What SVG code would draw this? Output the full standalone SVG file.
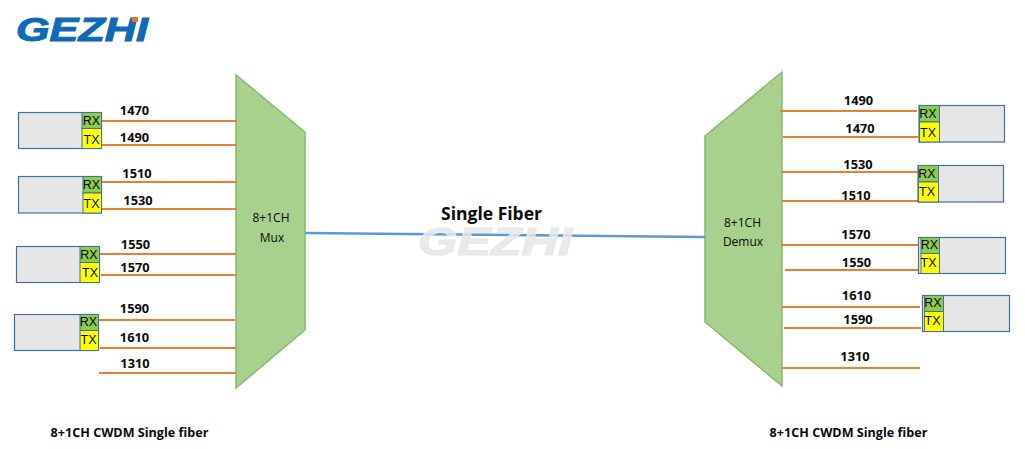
<svg xmlns="http://www.w3.org/2000/svg" width="1025" height="449" viewBox="0 0 1025 449">
<style>
text{font-family:"Open Sans","Liberation Sans",sans-serif;fill:#0a0a0a}
.l{font-size:12.8px;font-weight:700;text-anchor:middle}
.p{font-size:12.5px;font-family:"Liberation Sans",sans-serif;text-anchor:middle}
.m{font-size:12px;text-anchor:middle}
.c{font-size:12.6px;font-weight:700;text-anchor:middle}
.o{stroke:#ed7d31;stroke-width:2.200;fill:none}
.b{fill:#e6e6e6;stroke:#41719c;stroke-width:1.200}
.r{fill:#8ccb50;stroke:#41719c;stroke-width:1}
.y{fill:#ffff00;stroke:#41719c;stroke-width:1}
.t{fill:#a9d18e;stroke:#85b868;stroke-width:1.500}
.logo{font-family:"Liberation Sans",sans-serif;font-weight:700;font-style:italic}
</style>
<g id="logo">
<text class="logo" x="16" y="41" font-size="33" textLength="132" lengthAdjust="spacingAndGlyphs" style="fill:#0f69b4;stroke:#0f69b4;stroke-width:1">GEZHI</text>
<rect x="132" y="17" width="6" height="5" fill="#e8762c"/>
</g>
<g id="mux"><polygon class="t" points="236,75 305,132 305,330 236,388"/><text class="m" x="271" y="221.500">8+1CH</text><text class="m" x="272" y="241.500">Mux</text></g>
<g id="demux"><polygon class="t" points="782,72 782,386 705,322 705,136"/><text class="m" x="742.500" y="226.500">8+1CH</text><text class="m" x="743" y="246">Demux</text></g>
<g id="connectors">
<path d="M305 233L705 237" fill="none" stroke="#5b9bd5" stroke-width="2.500"/>
<path class="o" d="M101 121H237M101 145H237M101 182H237M101 209H237M100 254H236M101 275H237M99 320H235M100 348H236M99 373H236"/>
<path class="o" d="M780 111H917M783 137H918M782 172H918M782 201H918M781 245H918M785 270H918M782 307H920M784 328H921M782 368H920"/>
</g>
<text id="watermark" class="logo" x="418" y="255" font-size="38" textLength="154" lengthAdjust="spacingAndGlyphs" style="fill:#e6e8e8;fill-opacity:.85;stroke:#e6e8e8;stroke-width:1">GEZHI</text>
<g id="left-1"><rect class="b" x="18.500" y="112.500" width="83" height="36"/><rect class="r" x="82" y="112.500" width="19.500" height="16"/><rect class="y" x="82" y="128.500" width="19.500" height="20"/><text class="p" x="91.500" y="125">RX</text><text class="p" x="91.500" y="144">TX</text></g>
<g id="left-2"><rect class="b" x="18.500" y="176.500" width="83" height="36.500"/><rect class="r" x="83" y="176.500" width="18.500" height="16.500"/><rect class="y" x="83" y="193" width="18.500" height="20"/><text class="p" x="91.500" y="189">RX</text><text class="p" x="91.500" y="208">TX</text></g>
<g id="left-3"><rect class="b" x="16.500" y="246.500" width="83" height="36"/><rect class="r" x="80" y="246.500" width="19.500" height="16"/><rect class="y" x="80" y="262.500" width="19.500" height="20"/><text class="p" x="89" y="259">RX</text><text class="p" x="90" y="277">TX</text></g>
<g id="left-4"><rect class="b" x="14.500" y="314.500" width="84" height="36"/><rect class="r" x="80" y="314.500" width="18.500" height="16"/><rect class="y" x="80" y="330.500" width="18.500" height="20"/><text class="p" x="88.500" y="326">RX</text><text class="p" x="88.500" y="344">TX</text></g>
<g id="right-1"><rect class="b" x="919" y="105.500" width="85.500" height="36.500"/><rect class="r" x="919.500" y="105.500" width="20" height="16.500"/><rect class="y" x="919.500" y="122" width="20" height="20"/><text class="p" x="928" y="118">RX</text><text class="p" x="928" y="137">TX</text></g>
<g id="right-2"><rect class="b" x="918" y="165.500" width="85.500" height="36.500"/><rect class="r" x="918.500" y="165.500" width="20" height="16.500"/><rect class="y" x="918.500" y="182" width="20" height="20"/><text class="p" x="927" y="178">RX</text><text class="p" x="927" y="196">TX</text></g>
<g id="right-3"><rect class="b" x="918.500" y="237.500" width="87" height="36"/><rect class="r" x="921" y="237.500" width="18.500" height="16"/><rect class="y" x="921" y="253.500" width="18.500" height="20"/><text class="p" x="929.500" y="249">RX</text><text class="p" x="928.500" y="267">TX</text></g>
<g id="right-4"><rect class="b" x="922.500" y="295.500" width="87" height="36"/><rect class="r" x="924.500" y="295.500" width="19" height="16"/><rect class="y" x="924.500" y="311.500" width="19" height="20"/><text class="p" x="933" y="307">RX</text><text class="p" x="932.500" y="325">TX</text></g>
<g id="labels">
<text class="l" x="134.500" y="115">1470</text><text class="l" x="134.500" y="142">1490</text><text class="l" x="137" y="178">1510</text><text class="l" x="138" y="205">1530</text><text class="l" x="135.500" y="249">1550</text><text class="l" x="135" y="272">1570</text><text class="l" x="134.500" y="313">1590</text><text class="l" x="134.500" y="342">1610</text><text class="l" x="135" y="368">1310</text>
<text class="l" x="858.500" y="105">1490</text><text class="l" x="860" y="133">1470</text><text class="l" x="858" y="169">1530</text><text class="l" x="856" y="200">1510</text><text class="l" x="856" y="239">1570</text><text class="l" x="856.500" y="267">1550</text><text class="l" x="856.500" y="300">1610</text><text class="l" x="858" y="324">1590</text><text class="l" x="855" y="361">1310</text>
<text x="491.500" y="219.500" font-size="17.500" font-weight="700" text-anchor="middle">Single Fiber</text>
<text class="c" x="129.500" y="436.500">8+1CH CWDM Single fiber</text><text class="c" x="848.500" y="436.500">8+1CH CWDM Single fiber</text>
</g>
</svg>
